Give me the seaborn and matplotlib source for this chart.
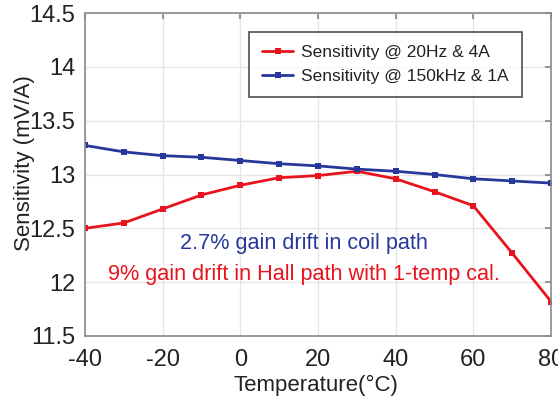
import matplotlib
matplotlib.use("Agg")
import matplotlib.pyplot as plt
import seaborn as sns
import pandas as pd

temps = [-40, -30, -20, -10, 0, 10, 20, 30, 40, 50, 60, 70, 80]
hall_sens = [12.50, 12.55, 12.68, 12.81, 12.90, 12.97, 12.99, 13.03, 12.96, 12.84, 12.71, 12.27, 11.82]
coil_sens = [13.27, 13.21, 13.175, 13.16, 13.13, 13.10, 13.08, 13.05, 13.03, 13.00, 12.96, 12.94, 12.92]
series_names = ["Sensitivity @ 20Hz & 4A", "Sensitivity @ 150kHz & 1A"]
xticks = [-40, -20, 0, 20, 40, 60, 80]
yticks = [11.5, 12, 12.5, 13, 13.5, 14, 14.5]
ytick_labels = ["11.5", "12", "12.5", "13", "13.5", "14", "14.5"]

sns.set_theme(style="whitegrid")
plt.rcParams["font.family"] = ["Liberation Sans", "DejaVu Sans"]
plt.rcParams["axes.unicode_minus"] = False

df = pd.DataFrame({
    "Temperature": temps * 2,
    "Sensitivity": hall_sens + coil_sens,
    "Series": [series_names[0]] * len(temps) + [series_names[1]] * len(temps),
})

fig = plt.figure(figsize=(5.58, 3.98), dpi=100)
ax = fig.add_axes([85 / 558, 1 - 336 / 398, (551 - 85) / 558, (336 - 13) / 398])
red = "#e8131c"
blue = "#27389a"
sns.lineplot(data=df, x="Temperature", y="Sensitivity", hue="Series",
             palette=[red, blue], marker="s", markersize=5, markeredgewidth=0,
             linewidth=2, ax=ax, legend=True)

ax.set_xlim(-40, 80)
ax.set_ylim(11.5, 14.5)
ax.set_xticks(xticks)
ax.set_xticklabels([str(t) for t in xticks])
ax.set_yticks(yticks)
ax.set_yticklabels(ytick_labels)
ax.tick_params(axis="both", labelsize=17, direction="in", length=4, color="#888888",
               top=True, right=True, labelcolor="#222222")
ax.tick_params(axis="x", pad=9)
ax.tick_params(axis="y", pad=7)
ax.grid(True, color="#e6e6e6", linewidth=1)
for s in ax.spines.values():
    s.set_color("#8a8a8a")
    s.set_linewidth(1.2)
ax.set_facecolor("white")
ax.set_xlabel("Temperature(°C)", fontsize=16, color="#222222")
ax.set_ylabel("Sensitivity (mV/A)", fontsize=16, color="#222222")
ax.xaxis.set_label_coords(0.496, -0.152)
ax.yaxis.set_label_coords(-0.13, 0.536)
ax.xaxis.label.set_va("center")
ax.yaxis.label.set_va("center")

leg = ax.legend(fontsize=12.5, frameon=True, fancybox=False, handlelength=1.8,
                handletextpad=0.45, borderpad=0.75, labelspacing=0.5,
                borderaxespad=0.0, loc="upper left",
                bbox_to_anchor=((249 - 85) / 466, 1 - (32 - 13) / 323))
leg.get_frame().set_edgecolor("#222222")
leg.get_frame().set_linewidth(1.2)
for t in leg.get_texts():
    t.set_color("#222222")

ax.text(16.4, 12.36, "2.7% gain drift in coil path", color=blue, fontsize=15.6,
        ha="center", va="center")
ax.text(16.4, 12.07, "9% gain drift in Hall path with 1-temp cal.", color=red,
        fontsize=15.6, ha="center", va="center")

fig.savefig("out.png", dpi=100)
